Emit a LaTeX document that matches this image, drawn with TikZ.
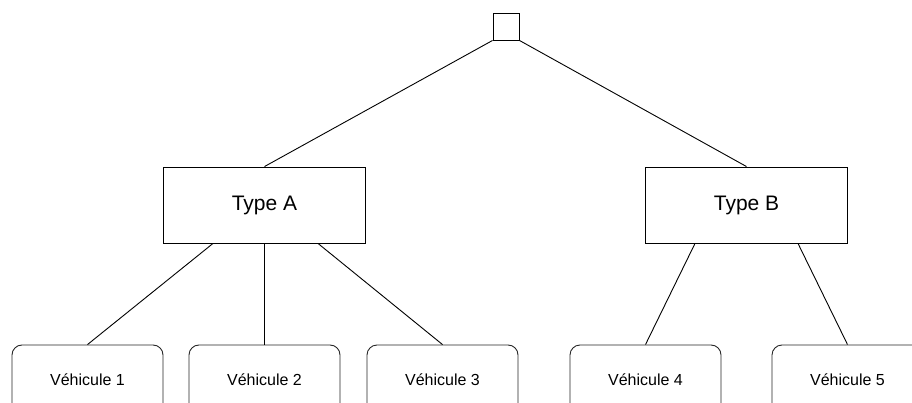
\documentclass[tikz,border=0pt]{standalone}
\usepackage{fontspec}
\setmainfont{Liberation Sans}
\begin{document}
\begin{tikzpicture}[x=1pt,y=-1pt,
  edge/.style={draw=black,line width=0.9pt},
  typebox/.style={draw=black,line width=0.9pt,minimum width=202pt,minimum height=76pt,inner sep=0pt,font=\fontsize{21}{25}\selectfont},
  vehbox/.style={draw=black!85,line width=0.9pt,rounded corners=10pt,minimum width=151pt,minimum height=90pt,inner sep=0pt},
  vehlabel/.style={inner sep=0pt,font=\fontsize{16}{19}\selectfont},
  rootbox/.style={draw=black,line width=0.9pt,minimum width=26pt,minimum height=27pt,inner sep=0pt}]
\useasboundingbox (0,0) rectangle (912,403);
\clip (0,0) rectangle (912,403);
\node[rootbox] (root) at (506,26.5) {};
\node[typebox] (ta) at (264.5,205) {Type A};
\node[typebox] (tb) at (746.5,205) {Type B};
\node[vehbox] (v1) at (87.5,390) {};
\node[vehbox] (v2) at (264.5,390) {};
\node[vehbox] (v3) at (442.5,390) {};
\node[vehbox] (v4) at (645.5,390) {};
\node[vehbox] (v5) at (847.5,390) {};
\node[vehlabel] (l1) at (87.5,380) {Véhicule 1};
\node[vehlabel] (l2) at (264.5,380) {Véhicule 2};
\node[vehlabel] (l3) at (442.5,380) {Véhicule 3};
\node[vehlabel] (l4) at (645.5,380) {Véhicule 4};
\node[vehlabel] (l5) at (847.5,380) {Véhicule 5};
\draw[edge] (root.south west) -- (ta.north);
\draw[edge] (root.south east) -- (tb.north);
\draw[edge] ([xshift=-51.5pt]ta.south) -- (v1.north);
\draw[edge] (ta.south) -- (v2.north);
\draw[edge] ([xshift=53.5pt]ta.south) -- (v3.north);
\draw[edge] ([xshift=-51.5pt]tb.south) -- (v4.north);
\draw[edge] ([xshift=51.5pt]tb.south) -- (v5.north);
\end{tikzpicture}
\end{document}
